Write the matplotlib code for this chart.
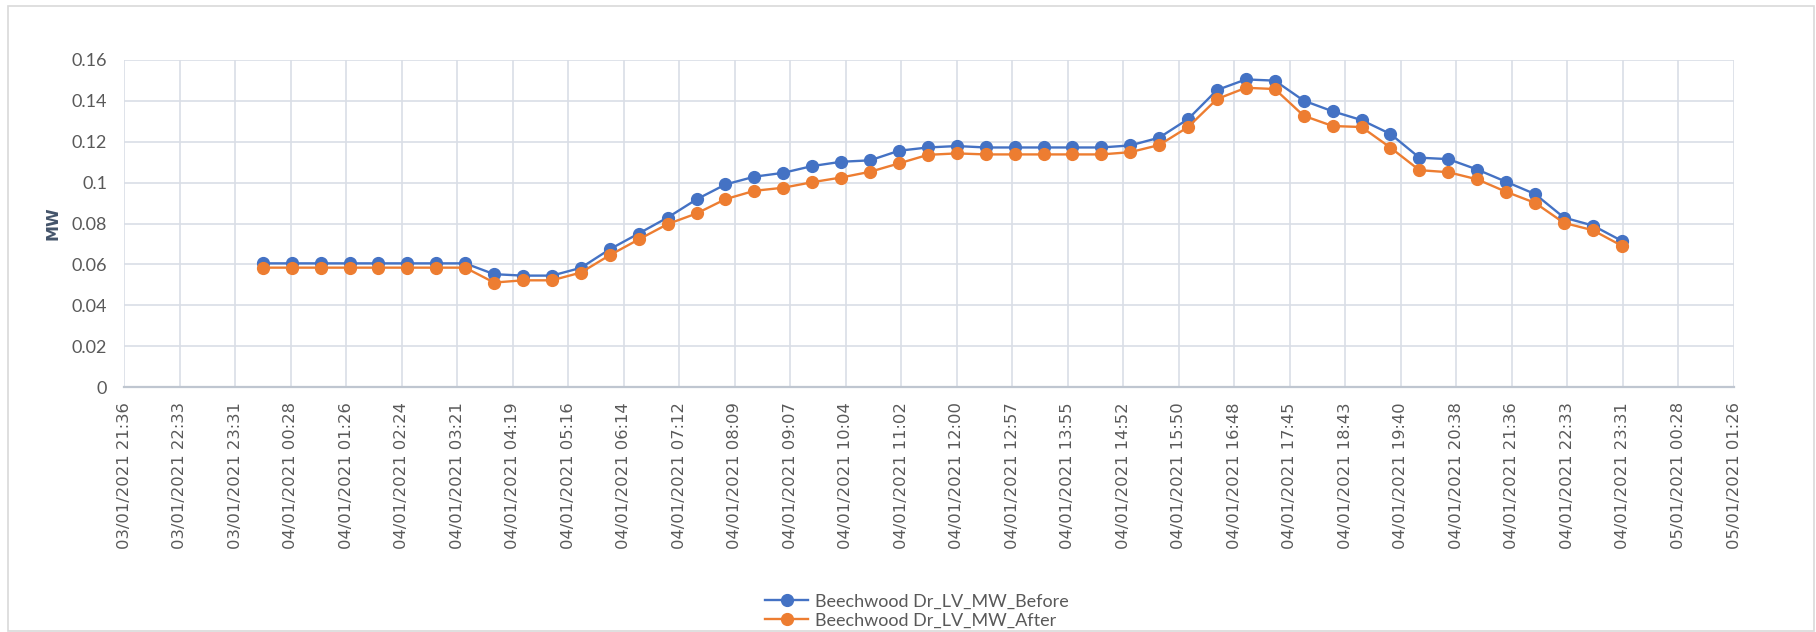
import datetime as dt
import matplotlib
matplotlib.use("Agg")
import matplotlib.pyplot as plt
import matplotlib.dates as mdates
from matplotlib.patches import Rectangle
from matplotlib.ticker import FuncFormatter

# half-hourly readings for 04/01/2021
start = dt.datetime(2021, 1, 4, 0, 0)
times = [start + dt.timedelta(minutes=30 * i) for i in range(48)]

mw_before = [0.0605, 0.0605, 0.0605, 0.0605, 0.0605, 0.0605, 0.0605, 0.0605,
             0.0552, 0.0545, 0.0545, 0.0583, 0.0674, 0.0751, 0.0829, 0.0918,
             0.0991, 0.1029, 0.1048, 0.1081, 0.1102, 0.1109, 0.1156, 0.1172,
             0.1179, 0.1172, 0.1172, 0.1172, 0.1172, 0.1172, 0.1182, 0.1220,
             0.1311, 0.1453, 0.1505, 0.1499, 0.1401, 0.1349, 0.1306, 0.1238,
             0.1122, 0.1115, 0.1064, 0.1004, 0.0944, 0.0829, 0.0790, 0.0715]
mw_after = [0.0584, 0.0584, 0.0584, 0.0584, 0.0584, 0.0584, 0.0584, 0.0584,
            0.0511, 0.0522, 0.0522, 0.0560, 0.0645, 0.0722, 0.0797, 0.0849,
            0.0919, 0.0960, 0.0975, 0.1002, 0.1025, 0.1053, 0.1094, 0.1136,
            0.1143, 0.1138, 0.1138, 0.1138, 0.1138, 0.1138, 0.1149, 0.1184,
            0.1272, 0.1409, 0.1464, 0.1458, 0.1327, 0.1277, 0.1272, 0.1171,
            0.1061, 0.1051, 0.1016, 0.0955, 0.0901, 0.0803, 0.0767, 0.0691]

# axis ticks every 0.04 day (57 min 36 s), Excel style
tick_start = dt.datetime(2021, 1, 3, 21, 36)
ticks = [tick_start + dt.timedelta(seconds=3456 * i) for i in range(30)]
tick_labels = [t.strftime("%d/%m/%Y %H:%M") for t in ticks]
tick_nums = mdates.date2num(ticks)

blue = "#4472C4"
orange = "#ED7D31"
grid_c = "#D9DEE6"
text_c = "#595959"

fig = plt.figure(figsize=(18.16, 6.32), dpi=100)
ax = fig.add_axes([124 / 1816, 1 - 387 / 632, (1734 - 124) / 1816, (387 - 60) / 632])

x = mdates.date2num(times)
ax.plot(x, mw_before, color=blue, lw=1.7, marker="o", ms=8.5,
        label="Beechwood Dr_LV_MW_Before", zorder=3)
ax.plot(x, mw_after, color=orange, lw=1.7, marker="o", ms=8.5,
        label="Beechwood Dr_LV_MW_After", zorder=4)

ax.set_xlim(tick_nums[0], tick_nums[-1])
ax.set_ylim(0, 0.16)
ax.set_yticks([0.02 * i for i in range(9)])
ax.yaxis.set_major_formatter(FuncFormatter(lambda v, p: "{:g}".format(round(v, 2))))
ax.set_xticks(tick_nums, labels=tick_labels, rotation=90)

ax.grid(True, color=grid_c, lw=1.2)
ax.set_axisbelow(True)
for s in ["top", "right", "left"]:
    ax.spines[s].set_visible(False)
ax.spines["bottom"].set_color("#BFC6D0")
ax.spines["bottom"].set_linewidth(1.6)

ax.tick_params(axis="y", length=0, pad=12, labelsize=13, labelcolor=text_c)
ax.tick_params(axis="x", length=0, pad=11, labelsize=11.8, labelcolor=text_c)
for lab in ax.get_yticklabels():
    lab.set_family(["Lato", "DejaVu Sans"])
for lab in ax.get_xticklabels():
    lab.set_family("DejaVu Sans")
    lab.set_verticalalignment("top")

ax.set_ylabel("MW", fontsize=11.5, fontweight="bold", color="#44546A",
              family="DejaVu Sans", labelpad=8)

leg = fig.legend(loc="center", bbox_to_anchor=(0.505, 0.033), frameon=False,
                 ncol=1, handlelength=2.4, labelspacing=0.15, handletextpad=0.4,
                 prop={"family": ["Lato", "DejaVu Sans"], "size": 13})
for t in leg.get_texts():
    t.set_color(text_c)

# chart area border
fig.patches.append(Rectangle((8 / 1816, 1 / 632), 1806 / 1816, 625 / 632,
                             transform=fig.transFigure, fill=False,
                             edgecolor="#D9D9D9", lw=1.2))

fig.savefig("out.png", dpi=100, facecolor="white")
